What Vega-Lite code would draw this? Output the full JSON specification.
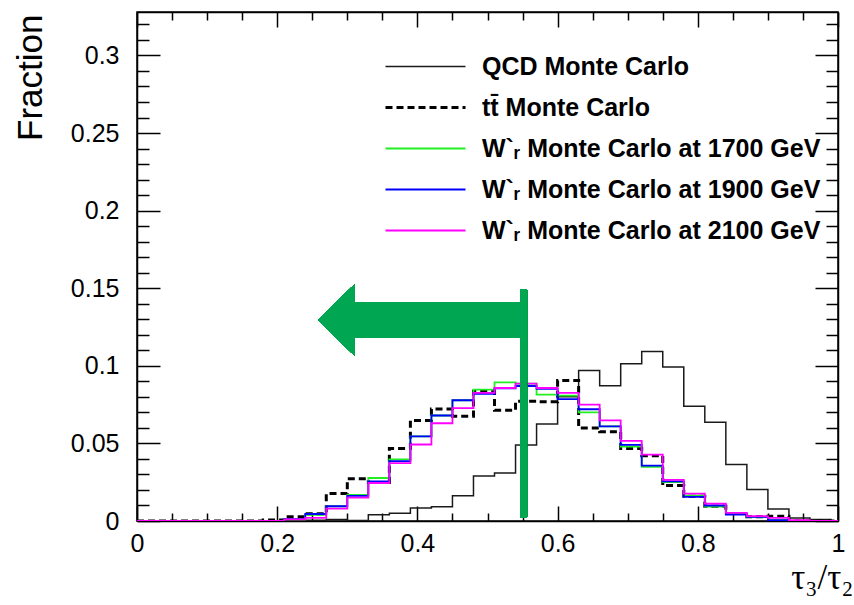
{
  "$schema": "https://vega.github.io/schema/vega-lite/v6.json",
  "width": 701,
  "height": 509,
  "autosize": "none",
  "padding": {"left": 137, "top": 12, "right": 16, "bottom": 84},
  "background": "white",
  "config": {
    "view": {"stroke": "black", "strokeWidth": 1.5},
    "axis": {
      "grid": false,
      "domainColor": "black",
      "domainWidth": 1.5,
      "tickColor": "black",
      "tickWidth": 1.5,
      "labelFont": "Liberation Sans",
      "labelFontSize": 25,
      "labelColor": "black",
      "titleFont": "Liberation Sans",
      "titleColor": "black",
      "titleFontWeight": "normal"
    }
  },
  "datasets": {
    "hist": [
      {"x": 0.00, "qcd": 0, "tt": 0, "w1700": 0, "w1900": 0, "w2100": 0},
      {"x": 0.03, "qcd": 0, "tt": 0, "w1700": 0, "w1900": 0, "w2100": 0},
      {"x": 0.06, "qcd": 0, "tt": 0, "w1700": 0, "w1900": 0, "w2100": 0},
      {"x": 0.09, "qcd": 0, "tt": 0, "w1700": 0, "w1900": 0, "w2100": 0},
      {"x": 0.12, "qcd": 0, "tt": 0, "w1700": 0, "w1900": 0, "w2100": 0},
      {"x": 0.15, "qcd": 0, "tt": 0, "w1700": 0, "w1900": 0, "w2100": 0},
      {"x": 0.18, "qcd": 0, "tt": 0.0006, "w1700": 0, "w1900": 0, "w2100": 0},
      {"x": 0.21, "qcd": 0, "tt": 0.0028, "w1700": 0.001, "w1900": 0.0012, "w2100": 0.001},
      {"x": 0.24, "qcd": 0.0005, "tt": 0.0047, "w1700": 0.004, "w1900": 0.0045, "w2100": 0.002},
      {"x": 0.27, "qcd": 0.001, "tt": 0.0177, "w1700": 0.0095, "w1900": 0.0095, "w2100": 0.008},
      {"x": 0.30, "qcd": 0.0003, "tt": 0.0272, "w1700": 0.0168, "w1900": 0.0162, "w2100": 0.015},
      {"x": 0.33, "qcd": 0.004, "tt": 0.0248, "w1700": 0.0277, "w1900": 0.0255, "w2100": 0.0245},
      {"x": 0.36, "qcd": 0.005, "tt": 0.0467, "w1700": 0.0397, "w1900": 0.0386, "w2100": 0.0373},
      {"x": 0.39, "qcd": 0.0083, "tt": 0.0648, "w1700": 0.0545, "w1900": 0.0545, "w2100": 0.0493},
      {"x": 0.42, "qcd": 0.0092, "tt": 0.0722, "w1700": 0.068, "w1900": 0.068, "w2100": 0.063},
      {"x": 0.45, "qcd": 0.0162, "tt": 0.0675, "w1700": 0.0778, "w1900": 0.0778, "w2100": 0.0728},
      {"x": 0.48, "qcd": 0.029, "tt": 0.0836, "w1700": 0.0846, "w1900": 0.082, "w2100": 0.0825},
      {"x": 0.51, "qcd": 0.031, "tt": 0.0713, "w1700": 0.0893, "w1900": 0.0855, "w2100": 0.0857},
      {"x": 0.54, "qcd": 0.049, "tt": 0.0771, "w1700": 0.0885, "w1900": 0.087, "w2100": 0.0885},
      {"x": 0.57, "qcd": 0.0625, "tt": 0.0768, "w1700": 0.0814, "w1900": 0.0852, "w2100": 0.0857},
      {"x": 0.60, "qcd": 0.08, "tt": 0.0906, "w1700": 0.0808, "w1900": 0.0786, "w2100": 0.0825},
      {"x": 0.63, "qcd": 0.097, "tt": 0.060, "w1700": 0.070, "w1900": 0.072, "w2100": 0.075},
      {"x": 0.66, "qcd": 0.0872, "tt": 0.0575, "w1700": 0.061, "w1900": 0.061, "w2100": 0.0649},
      {"x": 0.69, "qcd": 0.1013, "tt": 0.0467, "w1700": 0.048, "w1900": 0.049, "w2100": 0.0516},
      {"x": 0.72, "qcd": 0.1093, "tt": 0.042, "w1700": 0.0349, "w1900": 0.0357, "w2100": 0.0428},
      {"x": 0.75, "qcd": 0.0992, "tt": 0.0228, "w1700": 0.025, "w1900": 0.0255, "w2100": 0.0265},
      {"x": 0.78, "qcd": 0.074, "tt": 0.016, "w1700": 0.0164, "w1900": 0.0155, "w2100": 0.0176},
      {"x": 0.81, "qcd": 0.0636, "tt": 0.0095, "w1700": 0.0093, "w1900": 0.01, "w2100": 0.0112},
      {"x": 0.84, "qcd": 0.0364, "tt": 0.0048, "w1700": 0.0045, "w1900": 0.0042, "w2100": 0.0053},
      {"x": 0.87, "qcd": 0.0203, "tt": 0.0027, "w1700": 0.0027, "w1900": 0.0027, "w2100": 0.0031},
      {"x": 0.90, "qcd": 0.0078, "tt": 0.0031, "w1700": 0.0005, "w1900": 0.0005, "w2100": 0.002},
      {"x": 0.93, "qcd": 0.002, "tt": 0, "w1700": 0, "w1900": 0, "w2100": 0.0005},
      {"x": 0.96, "qcd": 0.001, "tt": 0, "w1700": 0, "w1900": 0, "w2100": 0},
      {"x": 0.99, "qcd": 0, "tt": 0, "w1700": 0, "w1900": 0, "w2100": 0},
      {"x": 1.00, "qcd": 0, "tt": 0, "w1700": 0, "w1900": 0, "w2100": 0}
    ]
  },
  "data": {"name": "hist"},
  "transform": [{"fold": ["qcd", "tt", "w1700", "w1900", "w2100"], "as": ["series", "frac"]}],
  "layer": [
    {
      "mark": {"type": "line", "interpolate": "step-after", "clip": true},
      "encoding": {
        "x": {
          "field": "x", "type": "quantitative",
          "scale": {"domain": [0, 1], "nice": false, "zero": false},
          "axis": {
            "orient": "bottom",
            "values": [0, 0.05, 0.1, 0.15, 0.2, 0.25, 0.3, 0.35, 0.4, 0.45, 0.5, 0.55, 0.6, 0.65, 0.7, 0.75, 0.8, 0.85, 0.9, 0.95, 1],
            "tickSize": {"condition": {"test": "abs(datum.value*5-round(datum.value*5))<1e-6", "value": -15}, "value": -8},
            "labelExpr": "abs(datum.value*5-round(datum.value*5))<1e-6 ? format(datum.value, '~g') : ''",
            "labelOverlap": false,
            "labelFlush": false,
            "labelPadding": 25,
            "title": "τ₃/τ₂",
            "titleFont": "Liberation Serif",
            "titleFontSize": 35,
            "titleAlign": "right",
            "titleAnchor": "end",
            "titleBaseline": "alphabetic",
            "titleX": 716,
            "titleY": 67
          }
        },
        "y": {
          "field": "frac", "type": "quantitative",
          "scale": {"domain": [0, 0.328], "nice": false, "zero": true},
          "axis": {
            "orient": "left",
            "values": [0, 0.01, 0.02, 0.03, 0.04, 0.05, 0.06, 0.07, 0.08, 0.09, 0.1, 0.11, 0.12, 0.13, 0.14, 0.15, 0.16, 0.17, 0.18, 0.19, 0.2, 0.21, 0.22, 0.23, 0.24, 0.25, 0.26, 0.27, 0.28, 0.29, 0.3, 0.31, 0.32],
            "tickSize": {"condition": {"test": "abs(datum.value*20-round(datum.value*20))<1e-6", "value": -23}, "value": -12},
            "labelExpr": "abs(datum.value*20-round(datum.value*20))<1e-6 ? format(datum.value, '~g') : ''",
            "labelOverlap": false,
            "labelFlush": false,
            "labelPadding": 41,
            "title": "Fraction",
            "titleFontSize": 35,
            "titleAngle": 270,
            "titleAlign": "right",
            "titleAnchor": "end",
            "titleBaseline": "middle",
            "titleX": -107,
            "titleY": 2
          }
        },
        "color": {
          "field": "series", "type": "nominal",
          "scale": {"domain": ["qcd", "tt", "w1700", "w1900", "w2100"], "range": ["#1a1a1a", "#000000", "#22ee22", "#0000ff", "#ff00ff"]},
          "legend": {
            "orient": "none",
            "legendX": 306,
            "legendY": 42,
            "title": null,
            "symbolType": "M-7,0H1",
            "symbolSize": 400,
            "labelFont": "Liberation Sans",
            "labelFontWeight": "bold",
            "labelFontSize": 25,
            "labelColor": "black",
            "labelLimit": 0,
            "labelOffset": 14,
            "rowPadding": 15,
            "labelExpr": "datum.label == 'qcd' ? 'QCD Monte Carlo' : datum.label == 'tt' ? 'tt\u0304 Monte Carlo' : datum.label == 'w1700' ? 'W`\u1d63 Monte Carlo at 1700 GeV' : datum.label == 'w1900' ? 'W`\u1d63 Monte Carlo at 1900 GeV' : 'W`\u1d63 Monte Carlo at 2100 GeV'"
          }
        },
        "strokeDash": {
          "field": "series", "type": "nominal",
          "scale": {"domain": ["qcd", "tt", "w1700", "w1900", "w2100"], "range": [[1, 0], [7, 4], [1, 0], [1, 0], [1, 0]]}
        },
        "strokeWidth": {
          "field": "series", "type": "nominal",
          "scale": {"type": "ordinal", "domain": ["qcd", "tt", "w1700", "w1900", "w2100"], "range": [1.5, 3, 1.8, 1.8, 1.8]}
        }
      }
    },
    {
      "mark": {"type": "line", "opacity": 0},
      "encoding": {
        "x": {
          "field": "x", "type": "quantitative",
          "axis": {
            "orient": "top",
            "values": [0, 0.05, 0.1, 0.15, 0.2, 0.25, 0.3, 0.35, 0.4, 0.45, 0.5, 0.55, 0.6, 0.65, 0.7, 0.75, 0.8, 0.85, 0.9, 0.95, 1],
            "tickSize": {"condition": {"test": "abs(datum.value*5-round(datum.value*5))<1e-6", "value": -15}, "value": -8},
            "labels": false,
            "title": null
          }
        },
        "y": {
          "field": "frac", "type": "quantitative",
          "axis": {
            "orient": "right",
            "values": [0, 0.01, 0.02, 0.03, 0.04, 0.05, 0.06, 0.07, 0.08, 0.09, 0.1, 0.11, 0.12, 0.13, 0.14, 0.15, 0.16, 0.17, 0.18, 0.19, 0.2, 0.21, 0.22, 0.23, 0.24, 0.25, 0.26, 0.27, 0.28, 0.29, 0.3, 0.31, 0.32],
            "tickSize": {"condition": {"test": "abs(datum.value*20-round(datum.value*20))<1e-6", "value": -23}, "value": -12},
            "labels": false,
            "title": null
          }
        },
        "detail": {"field": "series"}
      }
    },
    {
      "mark": {"type": "rule", "color": "#00a651", "strokeWidth": 7, "strokeCap": "butt"},
      "encoding": {
        "x": {"datum": 0.5514, "type": "quantitative", "axis": null},
        "y": {"datum": 0.0023, "type": "quantitative", "axis": null},
        "y2": {"datum": 0.149}
      }
    },
    {
      "mark": {"type": "rule", "color": "#00a651", "strokeWidth": 35, "strokeCap": "butt"},
      "encoding": {
        "x": {"datum": 0.311, "type": "quantitative", "axis": null},
        "x2": {"datum": 0.5514},
        "y": {"datum": 0.1293, "type": "quantitative", "axis": null}
      }
    },
    {
      "mark": {"type": "point", "shape": "M0.514,-1L-0.514,0L0.514,1Z", "size": 5184, "filled": true, "color": "#00a651", "opacity": 1, "strokeWidth": 0},
      "encoding": {
        "x": {"datum": 0.2846, "type": "quantitative", "axis": null},
        "y": {"datum": 0.1296, "type": "quantitative", "axis": null}
      }
    }
  ],
  "resolve": {"axis": {"x": "independent", "y": "independent"}}
}
